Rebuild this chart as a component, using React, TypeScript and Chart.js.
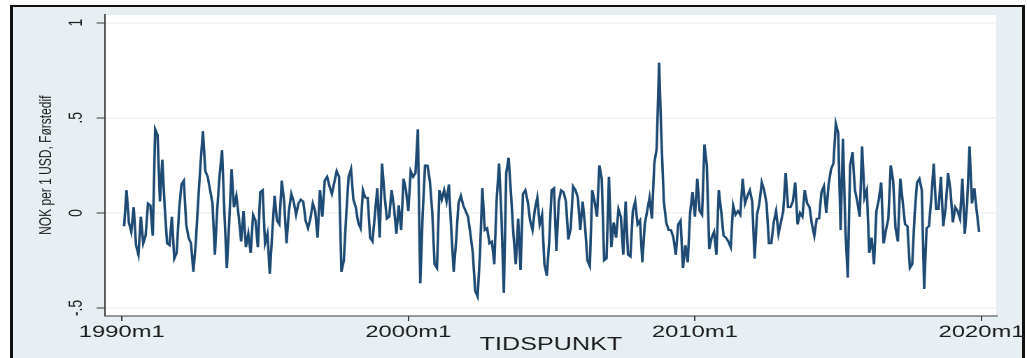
import React, { useEffect, useRef } from "react";
import { Chart, registerables } from "chart.js";

Chart.register(...registerables);

// Monthly first differences, NOK per 1 USD. Month index 0 = 1990m1.
const firstMonthIndex = 1; // series starts 1990m2

const values1990s = [
  -0.07, 0.12, -0.05, -0.1, 0.03, -0.17, -0.22, -0.02, -0.16, -0.12,
  0.05, 0.04, -0.12, 0.44, 0.41, 0.06, 0.28, 0.03, -0.16, -0.17,
  -0.02, -0.24, -0.21, 0.01, 0.15, 0.17, -0.06, -0.13, -0.16, -0.31,
  -0.16, 0.06, 0.26, 0.43, 0.22, 0.19, 0.12, 0.05, -0.22, 0.02,
  0.2, 0.33, 0.0, -0.29, -0.05, 0.23, 0.03, 0.09, -0.02, -0.15,
  0.01, -0.18, -0.11, -0.21, -0.01, -0.04, -0.18, 0.11, 0.12, -0.16,
  -0.11, -0.32, -0.11, 0.09, -0.04, -0.06, 0.17, 0.06, -0.16, 0.01,
  0.1, 0.06, -0.01, 0.05, 0.07, 0.06, -0.04, -0.08, -0.03, 0.05,
  0.01, -0.13, 0.12, -0.02, 0.17, 0.19, 0.14, 0.1, 0.16, 0.22,
  0.19, -0.31, -0.25, -0.01, 0.19, 0.23, 0.07, 0.03, -0.05, -0.08,
  0.12, 0.08, 0.08, -0.13, -0.15, -0.01, 0.13, -0.13, 0.26, 0.1,
  -0.03, -0.02, 0.12, 0.03, -0.11, 0.04, -0.09, 0.18, 0.12,
];

const values2000s = [
  0.01, 0.22, 0.19, 0.21, 0.44, -0.37, -0.01, 0.25, 0.25, 0.17,
  0.01, -0.27, -0.29, 0.12, 0.07, 0.12, 0.06, 0.15, -0.09, -0.31,
  -0.15, 0.05, 0.09, 0.04, 0.01, -0.02, -0.11, -0.21, -0.41, -0.44,
  -0.22, 0.13, -0.09, -0.08, -0.16, -0.15, -0.27, 0.07, 0.26, -0.02,
  -0.42, 0.21, 0.29, 0.1, -0.11, -0.27, -0.03, -0.3, 0.1, 0.12,
  0.06, -0.04, -0.09, 0.02, 0.08, -0.06, -0.01, -0.27, -0.33, -0.15,
  0.12, 0.13, -0.2, 0.06, 0.12, 0.11, 0.06, -0.14, -0.08, 0.14,
  0.12, 0.08, -0.09, 0.06, -0.07, -0.25, -0.28, 0.12, 0.06, -0.02,
  0.25, 0.18, -0.25, -0.24, 0.19, -0.18, -0.05, -0.13, 0.02, -0.02,
  -0.22, 0.06, -0.22, -0.23, 0.01, 0.06, -0.06, -0.04, -0.26, -0.06,
  0.01, 0.08, -0.03, 0.26, 0.34, 0.79, 0.38, 0.06, -0.05, -0.09,
  -0.09, -0.13, -0.22, -0.06, -0.04, -0.29, -0.17, -0.26, 0.0, 0.11,
];

const values2010s = [
  -0.02, 0.18, 0.01, -0.01, 0.36, 0.25, -0.19, -0.13, -0.1, -0.22,
  0.12, 0.01, -0.12, -0.13, -0.15, -0.18, 0.04, -0.01, 0.01, -0.01,
  0.18, 0.05, 0.09, 0.12, 0.06, -0.24, -0.01, 0.05, 0.16, 0.12,
  0.05, -0.16, -0.16, -0.05, 0.01, -0.11, -0.05, 0.01, 0.21, 0.03,
  0.03, 0.06, 0.16, -0.06, 0.0, -0.02, 0.12, 0.05, 0.03, -0.06,
  -0.12, -0.03, -0.03, 0.11, 0.14, 0.0, 0.15, 0.23, 0.26, 0.47,
  0.42, -0.09, 0.39, -0.08, -0.34, 0.25, 0.32, 0.12, 0.06, -0.02,
  0.35, 0.08, 0.12, -0.21, -0.13, -0.27, 0.01, 0.07, 0.16, -0.16,
  -0.09, -0.03, 0.25, 0.17, -0.08, -0.15, 0.18, 0.06, -0.06, -0.07,
  -0.29, -0.27, -0.01, 0.16, 0.18, 0.12, -0.4, -0.08, -0.07, 0.08,
  0.26, 0.02, 0.02, 0.19, -0.07, 0.03, 0.21, 0.12, -0.05, 0.03,
  0.01, -0.03, 0.18, -0.11, 0.05, 0.35, 0.05, 0.13, 0.01, -0.1,
];

const xTickValues = [0, 120, 240, 360];
const xTickLabels = ["1990m1", "2000m1", "2010m1", "2020m1"];
const yTickValues = [-0.5, 0, 0.5, 1];
const yTickLabels = ["-.5", "0", ".5", "1"];
const xTitle = "TIDSPUNKT";
const yTitle = "NOK per 1 USD, Førstedif";

// Layout (chart drawn on a narrower canvas and stretched horizontally, like the reference)
const PAGE_W = 1027;
const PAGE_H = 358;
const CANVAS_W = 734;
const STRETCH = PAGE_W / CANVAS_W;
const PLOT_LEFT = 105 / STRETCH;
const PLOT_RIGHT = 997 / STRETCH;
const PLOT_TOP = 12.5;
const PLOT_BOTTOM = 316;

const FONT = "'Liberation Sans', Arial, sans-serif";

const plotBg = {
  id: "plotBg",
  beforeDraw(chart: any) {
    const { ctx, chartArea } = chart;
    ctx.save();
    ctx.fillStyle = "#ffffff";
    ctx.fillRect(chartArea.left, chartArea.top, chartArea.right - chartArea.left, chartArea.bottom - chartArea.top);
    ctx.strokeStyle = "#e4eaed";
    ctx.lineWidth = 1;
    ctx.strokeRect(chartArea.left, chartArea.top, chartArea.right - chartArea.left, chartArea.bottom - chartArea.top);
    ctx.restore();
  },
};

export default function App() {
  const canvasRef = useRef<HTMLCanvasElement | null>(null);

  useEffect(() => {
    if (!canvasRef.current) return;
    const all = [...values1990s, ...values2000s, ...values2010s];
    const points = all.map((v, i) => ({ x: firstMonthIndex + i, y: v }));

    const chart = new Chart(canvasRef.current, {
      type: "line",
      data: {
        datasets: [
          {
            data: points,
            borderColor: "#1e4a74",
            borderWidth: 1.8,
            pointRadius: 0,
            tension: 0,
            fill: false,
          },
        ],
      },
      options: {
        animation: false,
        responsive: false,
        devicePixelRatio: 2,
        layout: {
          padding: { left: 0, top: PLOT_TOP, right: CANVAS_W - PLOT_RIGHT, bottom: 0 },
        },
        plugins: {
          legend: { display: false },
          tooltip: { enabled: false },
        },
        scales: {
          x: {
            type: "linear",
            min: -7.0,
            max: 366.5,
            afterBuildTicks: (scale: any) => {
              scale.ticks = xTickValues.map((v) => ({ value: v }));
            },
            afterFit: (scale: any) => {
              scale.height = PAGE_H - PLOT_BOTTOM;
            },
            ticks: {
              autoSkip: false,
              maxRotation: 0,
              minRotation: 0,
              padding: 1,
              color: "#1e1e1e",
              font: { family: FONT, size: 17 },
              callback: (val: any) => {
                const i = xTickValues.indexOf(Number(val));
                return i >= 0 ? xTickLabels[i] : "";
              },
            },
            grid: {
              drawOnChartArea: false,
              drawTicks: true,
              tickLength: 5,
              tickColor: "#3a3a3a",
              tickWidth: 1,
            },
            border: { display: true, color: "#3a3a3a", width: 1 },
            title: {
              display: true,
              text: xTitle,
              color: "#1e1e1e",
              font: { family: FONT, size: 18 },
              padding: { top: 0, bottom: 2 },
            },
          },
          y: {
            type: "linear",
            min: -0.542,
            max: 1.044,
            afterBuildTicks: (scale: any) => {
              scale.ticks = yTickValues.map((v) => ({ value: v }));
            },
            afterFit: (scale: any) => {
              scale.width = PLOT_LEFT;
            },
            ticks: {
              autoSkip: false,
              minRotation: 90,
              maxRotation: 90,
              crossAlign: "center",
              padding: 6,
              color: "#1e1e1e",
              font: { family: FONT, size: 14 },
              callback: (val: any) => {
                const i = yTickValues.indexOf(Number(val));
                return i >= 0 ? yTickLabels[i] : "";
              },
            },
            grid: {
              color: "#e8eef1",
              lineWidth: 1,
              drawTicks: true,
              tickLength: 6,
              tickColor: "#3a3a3a",
              tickWidth: 1,
            },
            border: { display: true, color: "#3a3a3a", width: 1 },
            title: {
              display: true,
              text: yTitle,
              color: "#1e1e1e",
              font: { family: FONT, size: 12 },
              padding: { top: 26, bottom: 0 },
            },
          },
        },
      },
      plugins: [plotBg],
    } as any);

    return () => chart.destroy();
  }, []);

  return (
    <div
      style={{
        position: "fixed",
        left: 0,
        top: 0,
        width: PAGE_W,
        height: PAGE_H,
        overflow: "hidden",
        background: "#ffffff",
      }}
    >
      <div
        style={{
          position: "absolute",
          left: 10,
          top: 5,
          width: 1015,
          height: 400,
          boxSizing: "border-box",
          background: "#e8eff2",
          borderLeft: "3px solid #111",
          borderRight: "3px solid #111",
          borderTop: "2px solid #111",
        }}
      />
      <canvas
        ref={canvasRef}
        width={CANVAS_W}
        height={PAGE_H}
        style={{
          position: "absolute",
          left: 0,
          top: 0,
          width: CANVAS_W,
          height: PAGE_H,
          transform: `scaleX(${STRETCH})`,
          transformOrigin: "0 0",
        }}
      />
    </div>
  );
}
